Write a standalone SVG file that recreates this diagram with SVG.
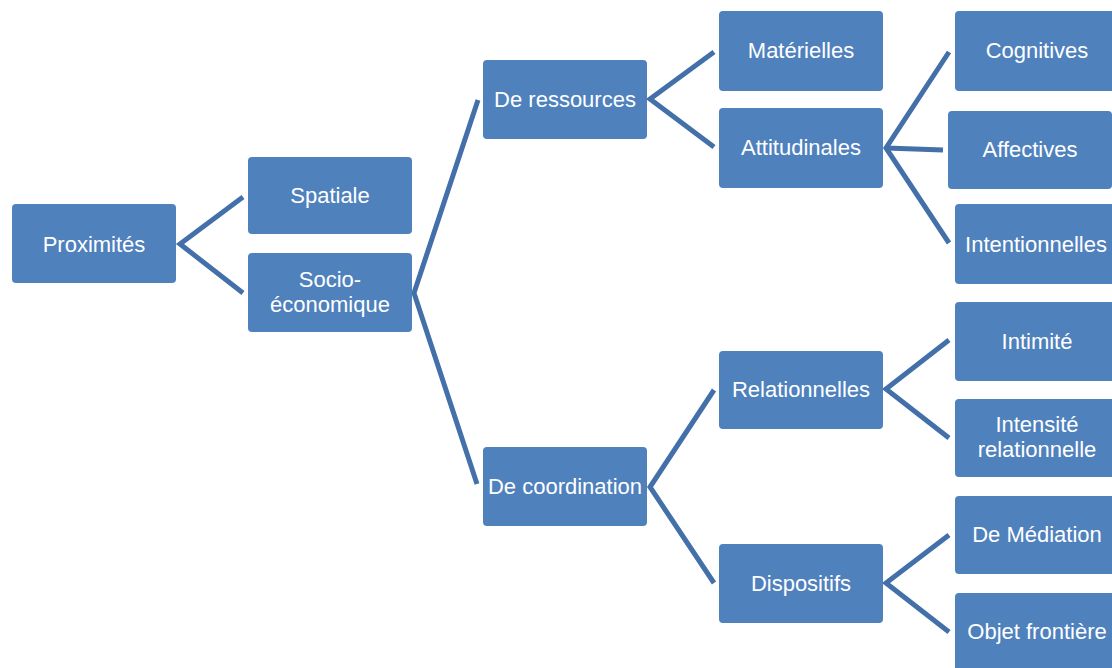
<svg xmlns="http://www.w3.org/2000/svg" width="1112" height="668" viewBox="0 0 1112 668">
<style>
.n{fill:#4f81bd;}
.t{fill:#ffffff;font-family:"Liberation Sans",Arial,sans-serif;font-size:22px;text-anchor:middle;}
.c{fill:none;stroke:#4470aa;stroke-width:5;stroke-linejoin:miter;}
</style>
<rect width="1112" height="668" fill="#ffffff"/>
<g id="connectors">
<polyline class="c" points="243,197 180,244 243,293"/>
<polyline class="c" points="478,100 414,293 477,484"/>
<polyline class="c" points="714,52 650,99 714,147"/>
<polyline class="c" points="949,52 886,148 949,243"/>
<polyline class="c" points="886,148 943,150"/>
<polyline class="c" points="714,390 650,487 714,583"/>
<polyline class="c" points="949,340 886,389 949,438"/>
<polyline class="c" points="949,535 886,583 949,632"/>
</g>
<g id="n-proximites"><rect class="n" x="12" y="204" width="164" height="79" rx="4"/><text class="t" x="94" y="251.5">Proximités</text></g>
<g id="n-spatiale"><rect class="n" x="248" y="157" width="164" height="77" rx="4"/><text class="t" x="330" y="203">Spatiale</text></g>
<g id="n-socio"><rect class="n" x="248" y="253" width="164" height="79" rx="4"/><text class="t" x="330" y="287">Socio-</text><text class="t" x="330" y="312">économique</text></g>
<g id="n-ressources"><rect class="n" x="483" y="60" width="164" height="79" rx="4"/><text class="t" x="565" y="107">De ressources</text></g>
<g id="n-coordination"><rect class="n" x="483" y="447" width="164" height="79" rx="4"/><text class="t" x="565" y="494">De coordination</text></g>
<g id="n-materielles"><rect class="n" x="719" y="11" width="164" height="80" rx="4"/><text class="t" x="801" y="58">Matérielles</text></g>
<g id="n-attitudinales"><rect class="n" x="719" y="108" width="164" height="80" rx="4"/><text class="t" x="801" y="155">Attitudinales</text></g>
<g id="n-relationnelles"><rect class="n" x="719" y="351" width="164" height="78" rx="4"/><text class="t" x="801" y="397">Relationnelles</text></g>
<g id="n-dispositifs"><rect class="n" x="719" y="544" width="164" height="79" rx="4"/><text class="t" x="801" y="591">Dispositifs</text></g>
<g id="n-cognitives"><rect class="n" x="955" y="11" width="164" height="80" rx="4"/><text class="t" x="1037" y="58">Cognitives</text></g>
<g id="n-affectives"><rect class="n" x="948" y="111" width="164" height="78" rx="4"/><text class="t" x="1030" y="157">Affectives</text></g>
<g id="n-intentionnelles"><rect class="n" x="955" y="204" width="164" height="80" rx="4"/><text class="t" x="1036" y="252">Intentionnelles</text></g>
<g id="n-intimite"><rect class="n" x="955" y="302" width="164" height="79" rx="4"/><text class="t" x="1037" y="349">Intimité</text></g>
<g id="n-intensite"><rect class="n" x="955" y="399" width="164" height="78" rx="4"/><text class="t" x="1037" y="432">Intensité</text><text class="t" x="1037" y="457">relationnelle</text></g>
<g id="n-mediation"><rect class="n" x="955" y="496" width="164" height="78" rx="4"/><text class="t" x="1037" y="542">De Médiation</text></g>
<g id="n-objet"><rect class="n" x="955" y="593" width="164" height="79" rx="4"/><text class="t" x="1037" y="639">Objet frontière</text></g>
</svg>
